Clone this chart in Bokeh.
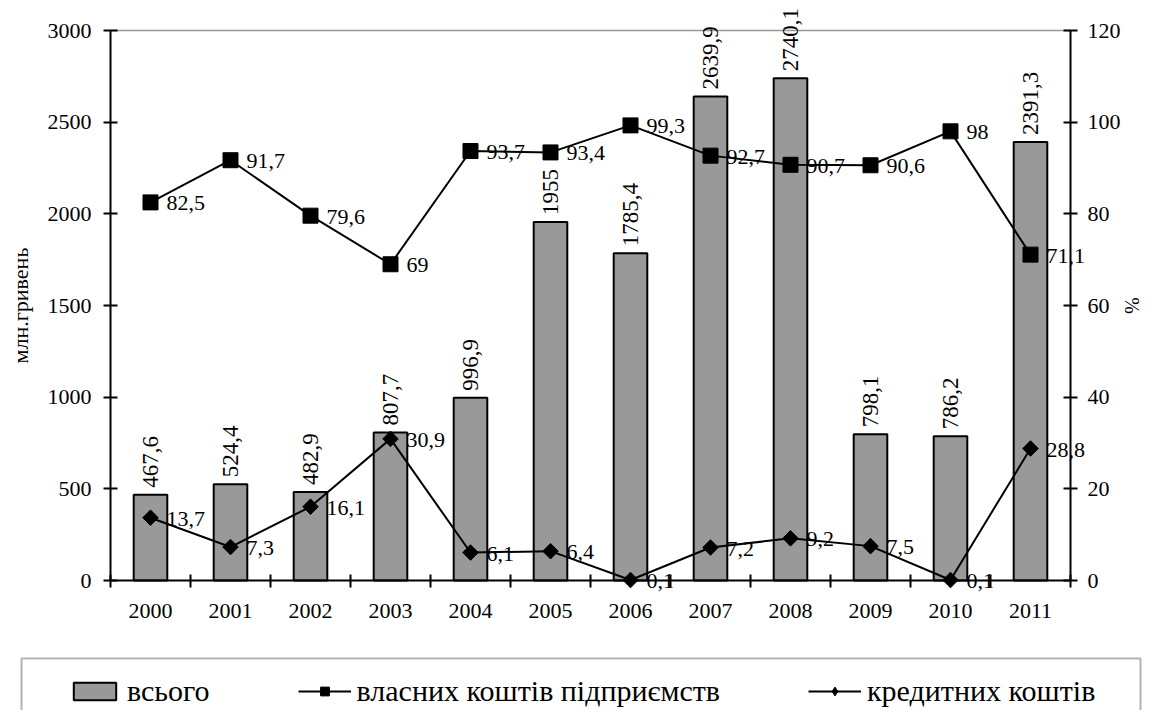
import math
from bokeh.plotting import figure
from bokeh.models import (ColumnDataSource, LinearAxis, Range1d, FixedTicker,
                          Legend, LegendItem, LabelSet, BoxAnnotation)
from bokeh.core.properties import value
from bokeh.embed import file_html
from bokeh.resources import INLINE

years = ["2000", "2001", "2002", "2003", "2004", "2005",
         "2006", "2007", "2008", "2009", "2010", "2011"]
total = [467.6, 524.4, 482.9, 807.7, 996.9, 1955, 1785.4, 2639.9, 2740.1, 798.1, 786.2, 2391.3]
own = [82.5, 91.7, 79.6, 69, 93.7, 93.4, 99.3, 92.7, 90.7, 90.6, 98, 71.1]
credit = [13.7, 7.3, 16.1, 30.9, 6.1, 6.4, 0.1, 7.2, 9.2, 7.5, 0.1, 28.8]

left_ticks = [0, 500, 1000, 1500, 2000, 2500, 3000]
right_ticks = [0, 20, 40, 60, 80, 100, 120]
left_max, right_max = 3000, 120

FONT = "Liberation Serif"

# canvas geometry (px)
W, H = 1142, 710
PLOT_L, PLOT_R = 110, 1070      # category axis extent
PLOT_T, PLOT_B = 30, 580        # value axis extent


def fmt(v):
    return f"{v:g}".replace(".", ",")


n = len(years)
px_x = n / (PLOT_R - PLOT_L)
x_rng = Range1d(-PLOT_L * px_x, n + (W - PLOT_R) * px_x)


def y_rng(vmax):
    per = vmax / (PLOT_B - PLOT_T)
    return Range1d(-(H - PLOT_B) * per, vmax + PLOT_T * per)


xs = [i + 0.5 for i in range(n)]
src = ColumnDataSource(dict(
    x=xs, total=total, own=own, credit=credit,
    total_lbl=[fmt(v) for v in total],
    own_lbl=[fmt(v) for v in own],
    credit_lbl=[fmt(v) for v in credit],
))

p = figure(width=W, height=H, x_range=x_rng, y_range=y_rng(left_max),
           output_backend="svg", toolbar_location=None,
           x_axis_location=None, y_axis_location=None,
           min_border=0, min_border_left=0, min_border_right=0,
           min_border_top=0, min_border_bottom=0)
p.extra_y_ranges = {"pct": y_rng(right_max)}
p.grid.visible = False
p.outline_line_color = None
p.background_fill_color = "white"
p.border_fill_color = "white"

bars = p.vbar(x="x", top="total", width=0.42, source=src,
              fill_color="#999999", line_color="black", line_width=2)

own_line = p.line("x", "own", source=src, y_range_name="pct",
                  line_color="black", line_width=2)
own_pts = p.scatter("x", "own", source=src, y_range_name="pct", marker="square",
                    size=15, fill_color="black", line_color="black")

cr_line = p.line("x", "credit", source=src, y_range_name="pct",
                 line_color="black", line_width=2)
# diamond used as the legend key (fully covered by the rhombus markers below)
cr_key = p.scatter("x", "credit", source=src, y_range_name="pct", marker="diamond",
                   size=14, fill_color="black", line_color="black")
cr_pts = p.scatter("x", "credit", source=src, y_range_name="pct", marker="square",
                   angle=math.pi / 4, size=11, fill_color="black", line_color="black")

# data labels
p.add_layout(LabelSet(x="x", y="total", text="total_lbl", source=src,
                      angle=math.pi / 2, text_align="left", text_baseline="middle",
                      y_offset=7, text_font=value(FONT), text_font_size="23px",
                      text_color="black"))
p.add_layout(LabelSet(x="x", y="own", text="own_lbl", source=src, y_range_name="pct",
                      text_align="left", text_baseline="middle", x_offset=16, y_offset=-1,
                      text_font=value(FONT), text_font_size="22px", text_color="black"))
p.add_layout(LabelSet(x="x", y="credit", text="credit_lbl", source=src, y_range_name="pct",
                      text_align="left", text_baseline="middle", x_offset=16, y_offset=-1,
                      text_font=value(FONT), text_font_size="22px", text_color="black"))


def style_value_axis(ax, label, label_size):
    ax.minor_tick_line_color = None
    ax.major_tick_in = 7
    ax.major_tick_out = 7
    ax.major_tick_line_width = 2
    ax.major_tick_line_color = "black"
    ax.axis_line_width = 2
    ax.axis_line_color = "black"
    ax.major_label_standoff = 10
    ax.major_label_text_font = FONT
    ax.major_label_text_font_size = "22px"
    ax.major_label_text_color = "black"
    ax.axis_label = label
    ax.axis_label_text_font = FONT
    ax.axis_label_text_font_size = label_size
    ax.axis_label_text_font_style = "normal"
    ax.axis_label_text_color = "black"


# category axis on the zero line: labels at centres, tick marks at boundaries
xa = LinearAxis(fixed_location=0, bounds=(0, n),
                ticker=FixedTicker(ticks=xs, minor_ticks=list(range(n + 1))))
xa.major_label_overrides = {x: y for x, y in zip(xs, years)}
xa.major_tick_in = 0
xa.major_tick_out = 0
xa.minor_tick_in = 6
xa.minor_tick_out = 7
xa.minor_tick_line_color = "black"
xa.minor_tick_line_width = 2
xa.axis_line_width = 2
xa.axis_line_color = "black"
xa.major_label_standoff = 16
xa.major_label_text_font = FONT
xa.major_label_text_font_size = "22px"
xa.major_label_text_color = "black"
p.add_layout(xa, "below")

ya = LinearAxis(fixed_location=0, bounds=(0, left_max),
                ticker=FixedTicker(ticks=left_ticks))
style_value_axis(ya, "млн.гривень", "22px")
ya.major_label_standoff = 12
ya.axis_label_standoff = 12
p.add_layout(ya, "left")

ra = LinearAxis(fixed_location=n, bounds=(0, right_max), y_range_name="pct",
                ticker=FixedTicker(ticks=right_ticks))
style_value_axis(ra, "%", "20px")
ra.major_label_standoff = 10
ra.axis_label_standoff = -3
p.add_layout(ra, "right")

# thin grey top border of the plot area
ta = LinearAxis(fixed_location=left_max, bounds=(0, n), ticker=FixedTicker(ticks=[]))
ta.axis_line_color = "#999999"
ta.axis_line_width = 1.5
ta.major_tick_line_color = None
ta.minor_tick_line_color = None
ta.major_label_text_color = None
p.add_layout(ta, "above")

# legend with its frame (frame runs past the bottom edge, as in the original)
p.add_layout(BoxAnnotation(left=21, right=1140, top=658, bottom=H + 20,
                           left_units="canvas", right_units="canvas",
                           top_units="canvas", bottom_units="canvas",
                           fill_alpha=0, line_color="black", line_width=2))

legend = Legend(items=[
    LegendItem(label="всього", renderers=[bars]),
    LegendItem(label="власних коштів підприємств", renderers=[own_line, own_pts]),
    LegendItem(label="кредитних коштів", renderers=[cr_line, cr_key]),
], orientation="horizontal", location=(66, 0), spacing=88, padding=2,
    glyph_width=53, glyph_height=22, label_height=30, label_standoff=6,
    label_text_font=FONT, label_text_font_size="30px", label_text_color="black",
    border_line_alpha=0, background_fill_alpha=0)
p.add_layout(legend, "center")

open("out.html", "w").write(file_html(p, INLINE))
